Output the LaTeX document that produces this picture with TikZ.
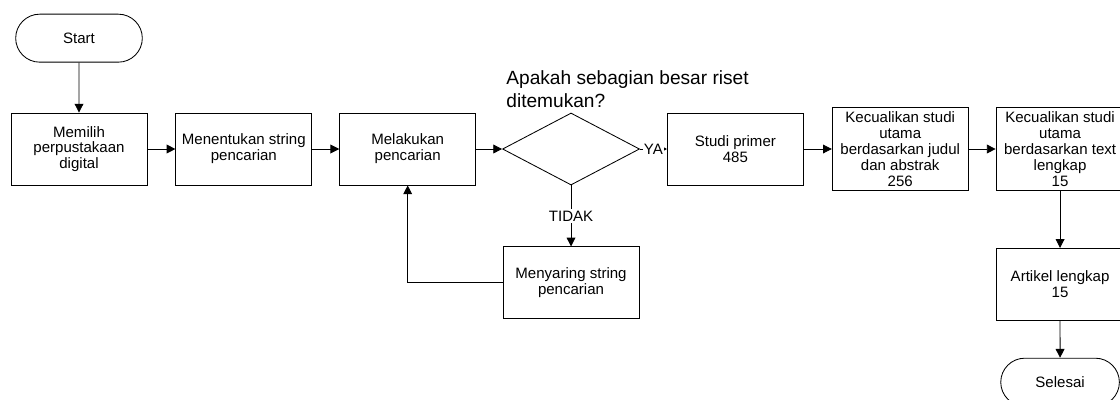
\documentclass[tikz,border=0pt]{standalone}
\usepackage{fontspec}
\setmainfont{Liberation Sans}
\usepackage{tikz}
\usetikzlibrary{shapes.geometric, shapes.misc, arrows.meta, positioning, calc}

\begin{document}
\begin{tikzpicture}[
    node distance=0.7cm and 0.7cm,
    process/.style={rectangle, draw=black, fill=white, minimum width=3.4cm, minimum height=1.8cm, inner sep=1pt, align=center, font=\fontsize{10.7}{11.3}\selectfont, line width=0.6pt},
    terminal/.style={rounded rectangle, draw=black, fill=white, minimum width=3.4cm, minimum height=1.2cm, font=\fontsize{10.7}{11.3}\selectfont, line width=0.6pt},
    decision/.style={diamond, draw=black, fill=white, minimum width=3.425cm, minimum height=1.8cm, inner sep=0pt, line width=0.6pt},
    arrow/.style={-{Triangle[length=2.2mm, width=2.2mm]}, line width=0.6pt, color=black},
    edgelabel/.style={fill=white, inner sep=1pt, font=\fontsize{10.7}{11.3}\selectfont}
]
    \useasboundingbox (0,0) rectangle (28,-9.975);

    % Main row
    \node[process] (lib) at (1.975,-3.725) {Memilih\\perpustakaan\\digital};
    \node[process, right=0.7cm of lib] (str) {Menentukan string\\pencarian};
    \node[process, right=0.675cm of str] (search) {Melakukan\\pencarian};
    \node[decision, right=0.65cm of search] (dec) {};
    \node[process, right=0.675cm of dec] (prim) {Studi primer\\485};
    \node[process, minimum height=2.075cm, right=0.7cm of prim] (excl1) {Kecualikan studi\\utama\\berdasarkan judul\\dan abstrak\\256};
    \node[process, minimum height=2.075cm, minimum width=3.2cm, right=0.675cm of excl1] (excl2) {Kecualikan studi\\utama\\berdasarkan text\\lengkap\\15};

    % Start and end
    \node[terminal, above=1.25cm of lib] (start) {Start};
    \node[process, minimum width=3.2cm, below=1.425cm of excl2] (art) {Artikel lengkap\\15};
    \node[terminal, minimum width=3.2cm, below=0.925cm of art] (stop) {Selesai};

    % Refine loop
    \node[process, below=1.525cm of dec] (filt) {Menyaring string\\pencarian};

    % Question
    \node[anchor=south west, align=left, inner sep=0pt, font=\fontsize{13.6}{16.2}\selectfont] (quest) at ($(dec.west |- dec.north)+(0.1,0.12)$) {Apakah sebagian besar riset\\ditemukan?};

    % Connections
    \draw[arrow] (start) -- (lib);
    \draw[arrow] (lib) -- (str);
    \draw[arrow] (str) -- (search);
    \draw[arrow] (search) -- (dec);
    \draw[-{Triangle[length=0.8mm, width=0.8mm]}, line width=0.6pt] (dec.east) -- node[edgelabel] {YA} (prim.west);
    \draw[arrow] (dec.south) -- node[edgelabel] {TIDAK} (filt.north);
    \draw[arrow] (filt.west) -| (search.south);
    \draw[arrow] (prim) -- (excl1);
    \draw[arrow] (excl1) -- (excl2);
    \draw[arrow] (excl2) -- (art);
    \draw[arrow] (art) -- (stop);

\end{tikzpicture}
\end{document}
